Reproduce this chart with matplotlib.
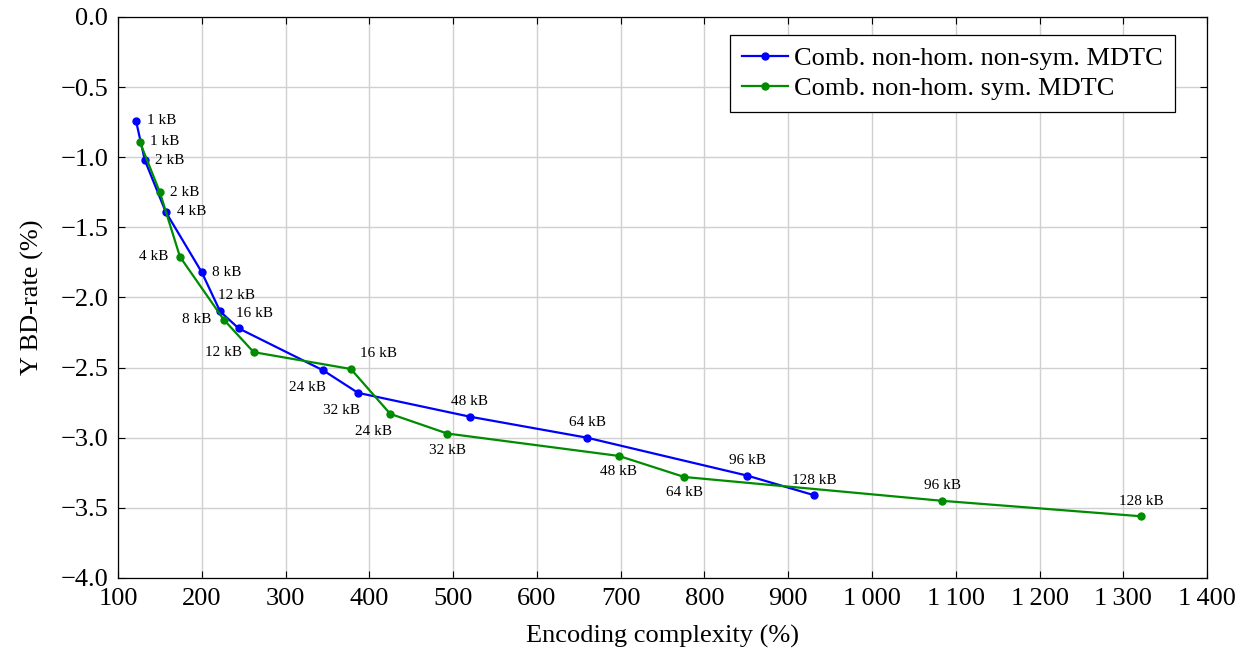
import numpy as np
import matplotlib.pyplot as plt
from matplotlib.ticker import FuncFormatter, MultipleLocator

plt.rcParams['font.family'] = ['Liberation Serif', 'DejaVu Serif']
plt.rcParams['mathtext.fontset'] = 'stix'

# data
labels_a = ["1 kB", "2 kB", "4 kB", "8 kB", "12 kB", "16 kB", "24 kB", "32 kB",
            "48 kB", "64 kB", "96 kB", "128 kB"]
cplx_a = [121.5, 132, 157, 200, 222, 244, 345, 386.5, 520, 660, 851, 931]
bd_a = [-0.74, -1.02, -1.39, -1.82, -2.10, -2.22, -2.52, -2.68, -2.85, -3.00, -3.27, -3.41]

labels_b = ["1 kB", "2 kB", "4 kB", "8 kB", "12 kB", "16 kB", "24 kB", "32 kB",
            "48 kB", "64 kB", "96 kB", "128 kB"]
cplx_b = [126, 150, 174, 226.5, 262, 378, 425, 493, 698, 776, 1084, 1321]
bd_b = [-0.89, -1.25, -1.71, -2.16, -2.39, -2.51, -2.83, -2.97, -3.13, -3.28, -3.45, -3.56]

# label offsets in pixels (dx, dy)
off_a = [(26, 0), (25, 0), (26, 0), (25, 0), (16, 16), (16, 15), (-16, -17), (-16, -18),
         (0, 15), (0, 15), (0, 15), (0, 15)]
off_b = [(25, 0), (25, 0), (-26, 0), (-27, 0), (-30, 0), (28, 15), (-17, -18), (0, -17),
         (0, -16), (0, -16), (0, 15), (0, 15)]

blue = '#0000ff'
green = '#008c00'

fig = plt.figure(figsize=(12.47, 6.55), dpi=100)
ax = fig.add_axes([0.0946, 0.1176, 0.8734, 0.8565])

ax.plot(cplx_a, bd_a, '-o', color=blue, lw=1.6, ms=5, label='Comb. non-hom. non-sym. MDTC', zorder=3)
ax.plot(cplx_b, bd_b, '-o', color=green, lw=1.6, ms=5, label='Comb. non-hom. sym. MDTC', zorder=3)

for x, y, t, o in zip(cplx_a, bd_a, labels_a, off_a):
    ax.annotate(t, (x, y), xytext=o, textcoords='offset pixels', ha='center', va='center', fontsize=11)
for x, y, t, o in zip(cplx_b, bd_b, labels_b, off_b):
    ax.annotate(t, (x, y), xytext=o, textcoords='offset pixels', ha='center', va='center', fontsize=11)

ax.set_xlim(100, 1400)
ax.set_ylim(-4.0, 0.0)
ax.xaxis.set_major_locator(MultipleLocator(100))
ax.yaxis.set_major_locator(MultipleLocator(0.5))

def xfmt(v, pos):
    v = int(round(v))
    if v >= 1000:
        return f"{v // 1000}\u2009{v % 1000:03d}"
    return f"{v}"

def yfmt(v, pos):
    s = f"{v:.1f}"
    if v < -1e-9:
        s = "\u2212" + s[1:]
    elif s.startswith('-'):
        s = s[1:]
    return s

ax.xaxis.set_major_formatter(FuncFormatter(xfmt))
ax.yaxis.set_major_formatter(FuncFormatter(yfmt))
ax.tick_params(direction='in', top=True, right=True, labelsize=19, length=5, width=0.8, pad=7)
ax.grid(True, color='#d0d0d0', lw=1.0)
ax.set_axisbelow(True)
for s in ax.spines.values():
    s.set_linewidth(0.9)

ax.set_xlabel('Encoding complexity (%)', fontsize=19, labelpad=11)
ax.set_ylabel('Y BD-rate (%)', fontsize=19, labelpad=12)

leg = ax.legend(loc='upper right', fontsize=19, fancybox=False, edgecolor='black',
                framealpha=1, borderaxespad=0, handlelength=1.75, handletextpad=0.25,
                labelspacing=0.25, borderpad=0.45,
                bbox_to_anchor=(0.9706, 0.968))
leg.get_frame().set_linewidth(0.9)

fig.savefig('out.png', dpi=100)
